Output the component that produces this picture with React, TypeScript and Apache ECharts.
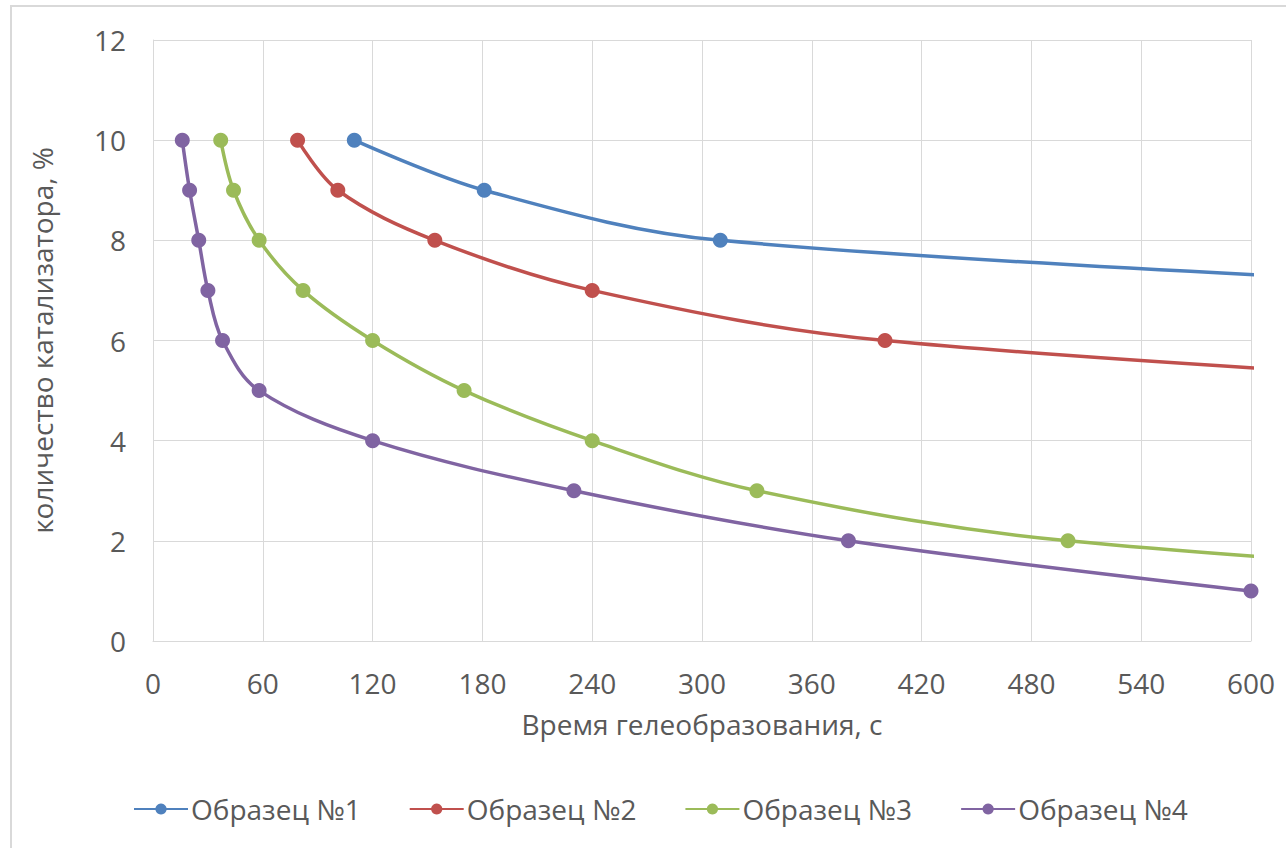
import React, { useEffect, useRef } from "react";
import * as echarts from "echarts";

const seriesNames = ["Образец №1", "Образец №2", "Образец №3", "Образец №4"];
const colors = ["#4F81BD", "#C0504D", "#9BBB59", "#8064A2"];

// [time, s; catalyst, %]  (points beyond 600 s are clipped by the axis, as in the source)
const sample1: number[][] = [[110, 10], [181, 9], [310, 8], [790, 7]];
const sample2: number[][] = [[79, 10], [101, 9], [154, 8], [240, 7], [400, 6], [820, 5]];
const sample3: number[][] = [[37, 10], [44, 9], [58, 8], [82, 7], [120, 6], [170, 5], [240, 4], [330, 3], [500, 2], [900, 1]];
const sample4: number[][] = [[16, 10], [20, 9], [25, 8], [30, 7], [38, 6], [58, 5], [120, 4], [230, 3], [380, 2], [600, 1]];
const allSeries = [sample1, sample2, sample3, sample4];

const xTitle = "Время гелеобразования, с";
const yTitle = "количество катализатора, %";

const FONT = "'Open Sans', 'Noto Sans', sans-serif";
const TXT = "#595959";
const FS = 28;

export default function App() {
  const ref = useRef<HTMLDivElement>(null);
  useEffect(() => {
    if (!ref.current) return;
    const chart = echarts.init(ref.current, null, { renderer: "svg" });
    chart.setOption({
      animation: false,
      backgroundColor: "#ffffff",
      textStyle: { fontFamily: FONT },
      graphic: [
        {
          type: "rect",
          shape: { x: 11, y: 6, width: 1300, height: 900 },
          style: { fill: "none", stroke: "#D9D9D9", lineWidth: 2 },
          silent: true,
        },
      ],
      grid: { left: 153, top: 40, right: 35, bottom: 207, containLabel: false },
      xAxis: {
        type: "value",
        min: 0,
        max: 600,
        interval: 60,
        name: xTitle,
        nameLocation: "middle",
        nameGap: 69,
        nameTextStyle: { color: TXT, fontSize: FS, fontFamily: FONT },
        axisLine: { show: true, lineStyle: { color: "#D9D9D9", width: 1 } },
        axisTick: { show: false },
        axisLabel: { color: TXT, fontSize: FS, margin: 28, fontFamily: FONT },
        splitLine: { show: true, lineStyle: { color: "#D9D9D9", width: 1 } },
      },
      yAxis: {
        type: "value",
        min: 0,
        max: 12,
        interval: 2,
        name: yTitle,
        nameLocation: "middle",
        nameGap: 97,
        nameRotate: 90,
        nameTextStyle: { color: TXT, fontSize: FS, fontFamily: FONT },
        axisLine: { show: true, lineStyle: { color: "#D9D9D9", width: 1 } },
        axisTick: { show: false },
        axisLabel: { color: TXT, fontSize: FS, margin: 27, fontFamily: FONT },
        splitLine: { show: true, lineStyle: { color: "#D9D9D9", width: 1 } },
      },
      legend: {
        left: 128,
        top: 790,
        itemWidth: 54,
        itemHeight: 14,
        itemGap: 48,
        textStyle: { color: TXT, fontSize: FS, fontFamily: FONT, padding: [0, 0, 0, -2] },
        data: seriesNames,
      },
      series: allSeries.map((d, i) => ({
        name: seriesNames[i],
        type: "line",
        data: d,
        smooth: 0.35,
        clip: true,
        symbol: "circle",
        symbolSize: 15,
        showAllSymbol: true,
        itemStyle: { color: colors[i] },
        lineStyle: { color: colors[i], width: 3.5 },
      })),
    });
    return () => chart.dispose();
  }, []);
  return (
    <div
      ref={ref}
      style={{ position: "fixed", left: 0, top: 0, width: 1286, height: 848 }}
    />
  );
}
